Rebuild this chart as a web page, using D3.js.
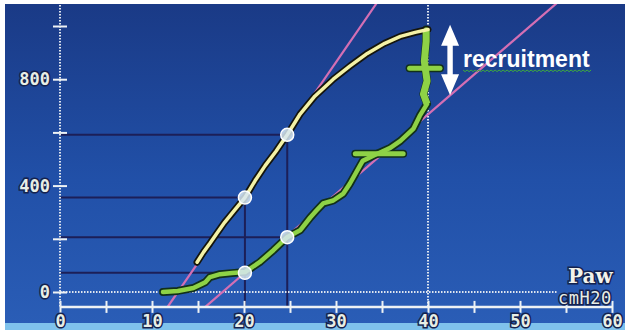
<!DOCTYPE html>
<html>
<head>
<meta charset="utf-8">
<script src="https://cdn.jsdelivr.net/npm/d3@7"></script>
<style>
  html, body { margin: 0; padding: 0; background: #ffffff; }
  svg { display: block; }
</style>
</head>
<body>
<svg id="chart" width="625" height="334"></svg>
<script>
// ---------- data (pressure cmH2O, volume mL) ----------
const xTickValues = [0, 5, 10, 15, 20, 25, 30, 35, 40, 45, 50, 55, 60];
const xTickLabels = ["0", "", "10", "", "20", "", "30", "", "40", "", "50", "", "60"];
const yTickValues = [0, 200, 400, 600, 800, 1000];
const yTickLabels = ["0", "", "400", "", "800", ""];

// upper limb (yellow)
const yellowP = [14.9, 15.6, 16.3, 17.0, 17.9, 18.8, 20.1, 21.2, 22.3, 23.5, 24.7, 26.1, 27.7, 29.7, 31.5, 33.4, 35.3, 37.0, 38.6, 40.0];
const yellowV = [112, 150, 183, 218, 262, 300, 355, 418, 475, 530, 591, 669, 736, 800, 849, 897, 935, 961, 976, 987];

// lower limb (green)
const greenP = [11.2, 12.8, 14.5, 15.8, 16.3, 17.4, 18.7, 20.1, 21.7, 23.2, 24.7, 26.1, 27.2, 27.9, 28.6, 29.7, 30.8, 31.5, 32.3, 32.9, 34.5, 35.9, 37.0, 38.4, 39.1, 39.9, 39.5, 39.9, 39.6, 39.8, 39.8];
const greenV = [0, 4, 15, 37, 56, 67, 71, 75, 112, 157, 206, 232, 280, 307, 333, 344, 370, 407, 456, 493, 520, 542, 568, 613, 662, 707, 744, 793, 867, 942, 987];

// green "+" bars: [pStart, pEnd, v]
const barStartP = [32.1, 38.0];
const barEndP = [37.3, 41.3];
const barV = [520, 841];

// tangent (pink) lines: endpoints
const pinkP1 = [11.7, 15.8];
const pinkV1 = [-56, -56];
const pinkP2 = [34.6, 54.3];
const pinkV2 = [1095, 1095];

// marker points
const markerP = [20.1, 24.7, 20.1, 24.7];
const markerV = [355, 591, 72, 206];
const markerDrop = [true, true, false, false];

// annotation
const arrowP = 42.4;
const arrowV = [740, 1005];
const annotationText = "recruitment";

// ---------- scales ----------
const svg = d3.select("#chart");
const x = d3.scaleLinear().domain([0, 60]).range([60, 612]);
const y = d3.scaleLinear().domain([0, 1000]).range([292, 26]);
const axisBaseY = y(-56);

// ---------- background ----------
const defs = svg.append("defs");
const grad = defs.append("linearGradient").attr("id", "bg").attr("x1", 0).attr("y1", 0).attr("x2", 0).attr("y2", 1);
grad.append("stop").attr("offset", "0%").attr("stop-color", "#1a3a86");
grad.append("stop").attr("offset", "55%").attr("stop-color", "#2150a8");
grad.append("stop").attr("offset", "100%").attr("stop-color", "#2a5db6");
svg.append("rect").attr("x", 0).attr("y", 0).attr("width", 625).attr("height", 334).attr("fill", "#ffffff");
svg.append("rect").attr("x", 5).attr("y", 4).attr("width", 620).attr("height", 320).attr("fill", "url(#bg)");
svg.append("rect").attr("x", 5).attr("y", 323).attr("width", 620).attr("height", 7).attr("fill", "#7fc2ec");

defs.append("clipPath").attr("id", "plotclip").append("rect")
  .attr("x", 5).attr("y", 4).attr("width", 620).attr("height", axisBaseY - 4);

// ---------- dark reference lines ----------
const ref = svg.append("g").attr("stroke", "#1c1f58").attr("stroke-width", 2).attr("fill", "none");
markerP.forEach((p, i) => {
  ref.append("line").attr("x1", x(0)).attr("x2", x(p)).attr("y1", y(markerV[i])).attr("y2", y(markerV[i]));
  if (markerDrop[i]) {
    ref.append("line").attr("x1", x(p)).attr("x2", x(p)).attr("y1", y(markerV[i])).attr("y2", axisBaseY);
  }
});

// ---------- dotted guides ----------
const dotStyle = g => g.attr("stroke", "#dfe6ef").attr("stroke-width", 2).attr("stroke-dasharray", "1.5,1.5");
svg.append("line").attr("x1", x(0)).attr("x2", 557).attr("y1", y(0)).attr("y2", y(0)).call(dotStyle);
svg.append("line").attr("x1", x(40)).attr("x2", x(40)).attr("y1", 5).attr("y2", axisBaseY).call(dotStyle);

// ---------- pink tangent lines ----------
const plot = svg.append("g").attr("clip-path", "url(#plotclip)");
pinkP1.forEach((p, i) => {
  plot.append("line")
    .attr("x1", x(p)).attr("y1", y(pinkV1[i]))
    .attr("x2", x(pinkP2[i])).attr("y2", y(pinkV2[i]))
    .attr("stroke", "#d46fb4").attr("stroke-width", 2.2);
});

// ---------- curves ----------
const line = d3.line().x(d => x(d[0])).y(d => y(d[1]));
const yellowData = yellowP.map((p, i) => [p, yellowV[i]]);
const greenData = greenP.map((p, i) => [p, greenV[i]]);

plot.append("path").attr("d", line(greenData)).attr("fill", "none")
  .attr("stroke", "#12301a").attr("stroke-width", 8).attr("stroke-linejoin", "round").attr("stroke-linecap", "round");
plot.append("path").attr("d", line(yellowData)).attr("fill", "none")
  .attr("stroke", "#15150c").attr("stroke-width", 7).attr("stroke-linejoin", "round").attr("stroke-linecap", "round");

barV.forEach((v, i) => {
  plot.append("line").attr("x1", x(barStartP[i])).attr("x2", x(barEndP[i])).attr("y1", y(v)).attr("y2", y(v))
    .attr("stroke", "#12301a").attr("stroke-width", 8).attr("stroke-linecap", "round");
});

plot.append("path").attr("d", line(greenData)).attr("fill", "none")
  .attr("stroke", "#8ed246").attr("stroke-width", 4.5).attr("stroke-linejoin", "round").attr("stroke-linecap", "round");
plot.append("path").attr("d", line(greenData.slice(-6))).attr("fill", "none")
  .attr("stroke", "#8ed246").attr("stroke-width", 7).attr("stroke-linejoin", "round");
barV.forEach((v, i) => {
  plot.append("line").attr("x1", x(barStartP[i])).attr("x2", x(barEndP[i])).attr("y1", y(v)).attr("y2", y(v))
    .attr("stroke", "#8ed246").attr("stroke-width", 5).attr("stroke-linecap", "round");
});
plot.append("path").attr("d", line(yellowData)).attr("fill", "none")
  .attr("stroke", "#f4f2a6").attr("stroke-width", 3.5).attr("stroke-linejoin", "round").attr("stroke-linecap", "round");

// ---------- markers ----------
markerP.forEach((p, i) => {
  plot.append("circle").attr("cx", x(p)).attr("cy", y(markerV[i])).attr("r", 6.5)
    .attr("fill", "rgba(215,232,242,0.85)").attr("stroke", "#ffffff").attr("stroke-width", 1.5);
});

// ---------- axes ----------
const textOutline = s => s.attr("stroke", "#14224e").attr("stroke-width", 3).attr("paint-order", "stroke");

const xAxis = d3.axisBottom(x).tickValues(xTickValues).tickSize(0).tickFormat((d, i) => xTickLabels[i]);
const gx = svg.append("g").attr("transform", `translate(0,${axisBaseY})`).call(xAxis);
gx.select(".domain").attr("stroke", "#eef2f4").attr("stroke-width", 2.5).attr("d", `M${x(0)},0H${x(60)}`);
gx.selectAll(".tick line").attr("y1", -6).attr("y2", 6).attr("stroke", "#eef2f4").attr("stroke-width", 2);
gx.selectAll(".tick text").attr("y", 8).attr("dy", "0.71em")
  .attr("font-family", "DejaVu Sans Mono, monospace").attr("font-size", 17).attr("font-weight", "bold")
  .attr("fill", "#e8eee6").call(textOutline);

const yAxis = d3.axisLeft(y).tickValues(yTickValues).tickSize(0).tickFormat((d, i) => yTickLabels[i]);
const gy = svg.append("g").attr("transform", `translate(${x(0)},0)`).call(yAxis);
gy.select(".domain").attr("d", `M0,5V${axisBaseY}`).call(dotStyle);
gy.selectAll(".tick line").attr("x1", -7).attr("x2", 7).attr("stroke", "#eef2f4").attr("stroke-width", 2);
gy.selectAll(".tick text").attr("x", -10)
  .attr("font-family", "DejaVu Sans Mono, monospace").attr("font-size", 17).attr("font-weight", "bold")
  .attr("fill", "#e8eee6").call(textOutline);

// axis unit labels
svg.append("text").attr("x", 568).attr("y", 283).text("Paw")
  .attr("font-family", "DejaVu Serif, serif").attr("font-weight", "bold").attr("font-size", 20)
  .attr("fill", "#f2f2ea").call(textOutline);
svg.append("text").attr("x", 558).attr("y", 304).text("cmH20")
  .attr("font-family", "DejaVu Sans Mono, monospace").attr("font-size", 17).attr("letter-spacing", 0.5)
  .attr("fill", "#e8eee6").call(textOutline);

// ---------- annotation ----------
const ax = x(arrowP), aTop = y(arrowV[1]), aBot = y(arrowV[0]);
svg.append("path")
  .attr("d", `M${ax},${aTop}L${ax + 9},${aTop + 21}L${ax + 2.7},${aTop + 21}L${ax + 2.7},${aBot - 21}L${ax + 9},${aBot - 21}L${ax},${aBot}L${ax - 9},${aBot - 21}L${ax - 2.7},${aBot - 21}L${ax - 2.7},${aTop + 21}L${ax - 9},${aTop + 21}Z`)
  .attr("fill", "#ffffff");

const tx = ax + 13, ty = 67;
svg.append("text").attr("x", tx).attr("y", ty).text(annotationText)
  .attr("font-family", "Liberation Sans, Arial, sans-serif").attr("font-weight", "bold").attr("font-size", 23)
  .attr("fill", "#ffffff");
let sq = `M${tx},${ty + 3}`;
for (let xx = tx, k = 0; xx < tx + 128; xx += 2, k++) sq += `L${xx + 2},${ty + 3 + (k % 2 ? 0 : 1.6)}`;
svg.append("path").attr("d", sq).attr("fill", "none").attr("stroke", "#3fae3a").attr("stroke-width", 1);
</script>
</body>
</html>
